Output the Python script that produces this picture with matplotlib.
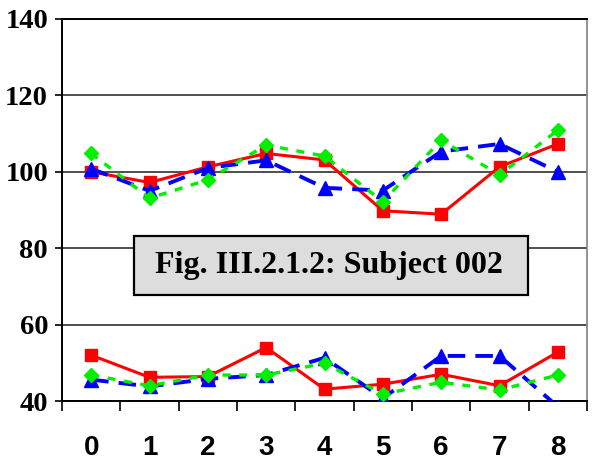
import matplotlib
matplotlib.use("Agg")
import matplotlib.pyplot as plt
from matplotlib.patches import Rectangle
import numpy as np

categories = ["0", "1", "2", "3", "4", "5", "6", "7", "8"]
y_ticks = [40, 60, 80, 100, 120, 140]

red_upper = [100, 97.2, 101.3, 104.8, 103.1, 89.8, 88.9, 101.3, 107.3]
blue_upper = [100.8, 95.0, 101.0, 103.0, 95.8, 95.1, 105.3, 107.3, 100.0]
green_upper = [104.8, 93.1, 97.9, 107.0, 104.1, 92.2, 108.3, 99.2, 110.9]

red_lower = [52.0, 46.2, 46.4, 54.0, 43.1, 44.4, 47.0, 44.0, 52.8]
blue_lower = [45.6, 43.8, 45.8, 46.8, 51.3, 40.7, 51.8, 51.8, 38.5]
green_lower = [46.8, 44.0, 46.8, 46.8, 49.9, 41.8, 44.9, 42.9, 46.8]

title_text = "Fig. III.2.1.2: Subject 002"

fig = plt.figure(figsize=(5.92, 4.61), dpi=100)
ax = fig.add_axes([62/592, 1-401/461, 525/592, 382/461])

x = np.arange(len(categories))

red_kw = dict(color="#FF0000", lw=2.2, marker="s", ms=8.5, mec="#FF0000", mfc="#FF0000", zorder=3)
blue_kw = dict(color="#0000FF", lw=2.8, ls=(0, (4.5, 2.6)), marker="^", ms=9.5, mec="#0000FF", mfc="#0000FF", zorder=4)
green_kw = dict(color="#00EE00", lw=2.4, ls=(0, (2.4, 2.6)), marker="D", ms=7.5, mec="#00EE00", mfc="#00EE00", zorder=5)

for series, kw in [(red_upper, red_kw), (blue_upper, blue_kw), (green_upper, green_kw),
                   (red_lower, red_kw), (blue_lower, blue_kw), (green_lower, green_kw)]:
    ax.plot(x, series, **kw)

ax.set_xlim(-0.5, len(categories) - 0.5)
ax.set_ylim(40, 140)

# y axis
ax.set_yticks(y_ticks)
ax.set_yticklabels([str(v) for v in y_ticks], fontfamily="Liberation Serif",
                   fontweight="bold", fontsize=20.5)
ax.tick_params(axis="y", direction="out", length=5, width=1.2, pad=5, color="black")
ax.yaxis.grid(True, color="#303030", lw=1.2, zorder=0)
ax.set_axisbelow(True)

# x axis: major ticks at boundaries, minor (labels) at centers
ax.set_xticks(np.arange(-0.5, len(categories), 1.0))
ax.set_xticklabels([])
ax.set_xticks(x, minor=True)
ax.set_xticklabels(categories, minor=True, fontfamily="Liberation Sans",
                   fontweight="bold", fontsize=20)
ax.tick_params(axis="x", which="major", direction="out", length=7, width=1.2, color="black")
ax.tick_params(axis="x", which="minor", length=0, pad=24.5)

for side in ["left", "bottom", "top"]:
    ax.spines[side].set_color("black")
    ax.spines[side].set_linewidth(1.4)
ax.spines["right"].set_color("#808080")
ax.spines["right"].set_linewidth(1.2)

# title box
rect = Rectangle((134/592, 1-295/461), 394/592, 59/461, transform=fig.transFigure,
                 facecolor="#DDDDDD", edgecolor="black", lw=1.6, zorder=10)
fig.patches.append(rect)
fig.text(329/592, 1-265.5/461, title_text, ha="center", va="center",
         fontfamily="Liberation Serif", fontweight="bold", fontsize=23, zorder=11)

fig.savefig("out.png", dpi=100)
